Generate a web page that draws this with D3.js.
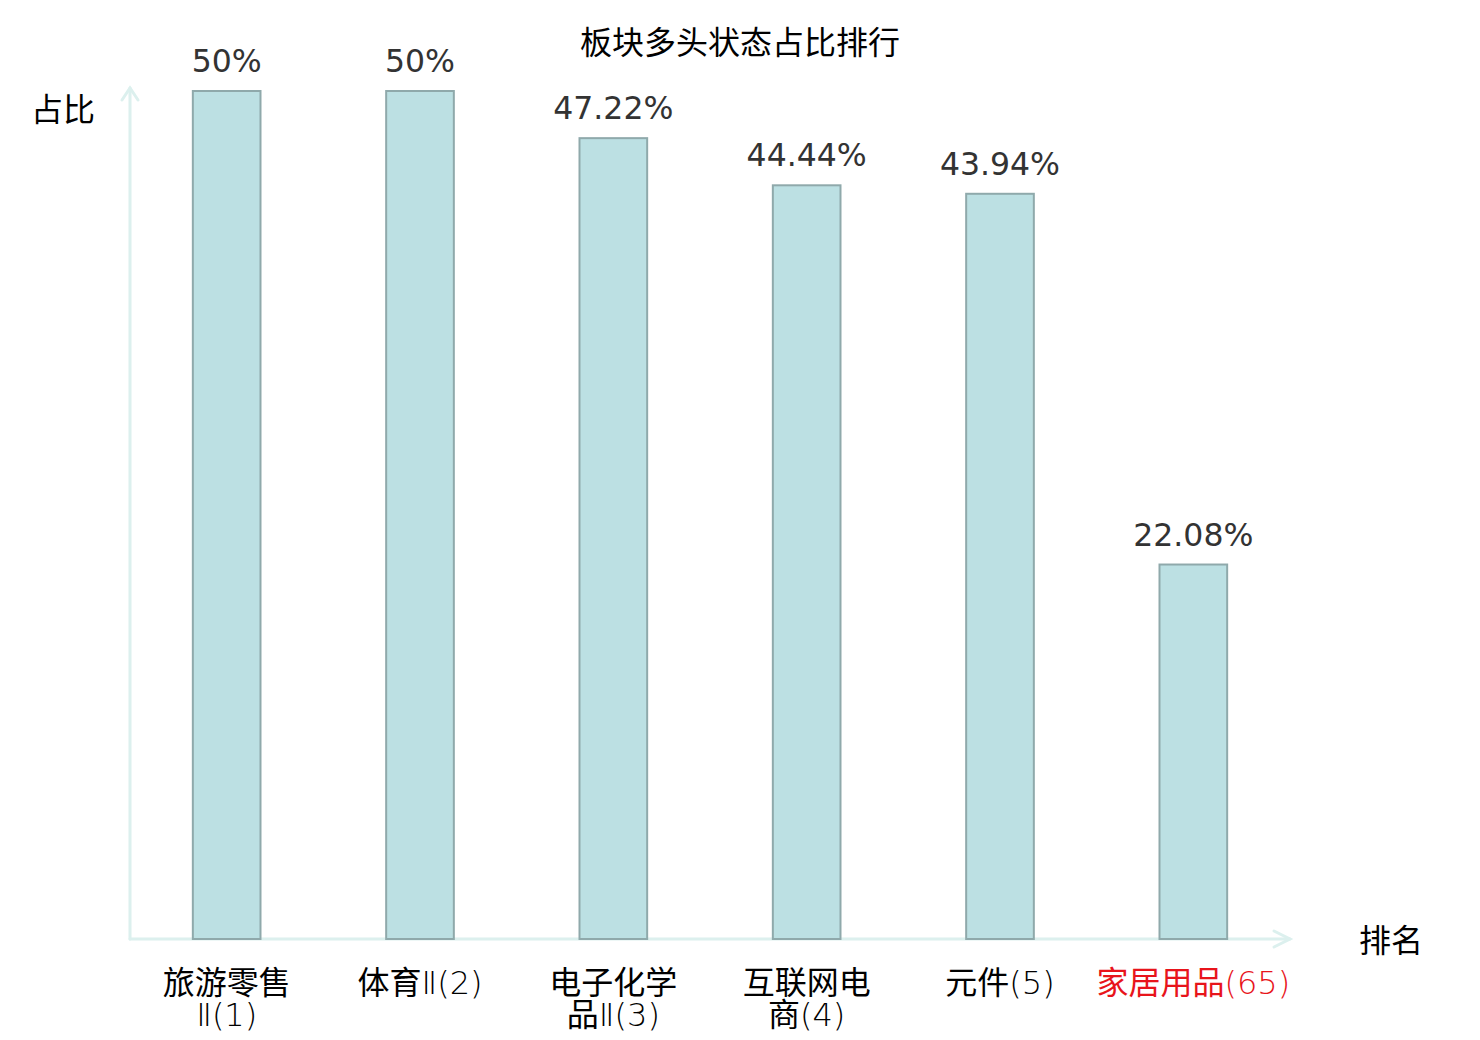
<!DOCTYPE html>
<html>
<head>
<meta charset="utf-8">
<script src="https://cdn.jsdelivr.net/npm/d3@7/dist/d3.min.js"></script>
<style>
  body { margin: 0; background: #fff; }
  text { font-family: "Noto Sans CJK SC", "DejaVu Sans", sans-serif; }
  .latin { font-family: "DejaVu Sans", sans-serif; font-weight: 200; }
</style>
</head>
<body>
<div id="chart"></div>
<script>
// chart data
var categories = ["旅游零售\nⅡ(1)", "体育Ⅱ(2)", "电子化学\n品Ⅱ(3)", "互联网电\n商(4)", "元件(5)", "家居用品(65)"];
var values = [50, 50, 47.22, 44.44, 43.94, 22.08];
var valueLabels = ["50%", "50%", "47.22%", "44.44%", "43.94%", "22.08%"];
var highlighted = ["家居用品(65)"];

var width = 1480, height = 1040,
    plotLeft = 130, plotRight = 1290, plotTop = 91, plotBottom = 939,
    axisColor = "#dcf0ee", barFill = "#bce0e3", barStroke = "#8fa9ab";

var svg = d3.select("#chart").append("svg")
    .attr("width", width)
    .attr("height", height);

var x = d3.scaleBand()
    .domain(categories)
    .range([plotLeft, plotRight])
    .paddingInner(0.65)
    .paddingOuter(0.325);

var y = d3.scaleLinear()
    .domain([0, 50])
    .range([plotBottom, plotTop]);

// title
svg.append("text")
    .attr("x", 740)
    .attr("y", 54)
    .attr("text-anchor", "middle")
    .style("font-size", "32px")
    .attr("fill", "#000")
    .text("板块多头状态占比排行");

// axes with open arrowheads
var axes = svg.append("g")
    .attr("stroke", axisColor)
    .attr("stroke-width", 3)
    .attr("fill", "none")
    .attr("stroke-linecap", "round");

axes.append("line")
    .attr("x1", plotLeft).attr("y1", plotBottom)
    .attr("x2", plotLeft).attr("y2", plotTop - 3);
axes.append("path")
    .attr("d", "M" + (plotLeft - 8) + "," + (plotTop + 9) + "L" + plotLeft + "," + (plotTop - 3) + "L" + (plotLeft + 8) + "," + (plotTop + 9));

axes.append("line")
    .attr("x1", plotLeft).attr("y1", plotBottom)
    .attr("x2", plotRight).attr("y2", plotBottom);
axes.append("path")
    .attr("d", "M" + (plotRight - 16) + "," + (plotBottom - 8) + "L" + plotRight + "," + plotBottom + "L" + (plotRight - 16) + "," + (plotBottom + 8));

// bars
svg.selectAll(".bar")
    .data(values)
    .enter().append("rect")
    .attr("class", "bar")
    .attr("x", function (d, i) { return x(categories[i]); })
    .attr("y", function (d) { return y(d); })
    .attr("width", x.bandwidth())
    .attr("height", function (d) { return plotBottom - y(d); })
    .attr("fill", barFill)
    .attr("stroke", barStroke)
    .attr("stroke-width", 2);

// value labels
svg.selectAll(".val")
    .data(values)
    .enter().append("text")
    .attr("class", "val")
    .attr("x", function (d, i) { return x(categories[i]) + x.bandwidth() / 2; })
    .attr("y", function (d) { return y(d) - 19; })
    .attr("text-anchor", "middle")
    .style("font-family", "'DejaVu Sans', sans-serif")
    .style("font-size", "31.5px")
    .attr("fill", "#333")
    .text(function (d, i) { return valueLabels[i]; });

// axis names
svg.append("text")
    .attr("x", 63).attr("y", 121)
    .attr("text-anchor", "middle")
    .style("font-size", "32px")
    .text("占比");

svg.append("text")
    .attr("x", 1391).attr("y", 952)
    .attr("text-anchor", "middle")
    .style("font-size", "32px")
    .text("排名");

// category labels, one <text> per line; latin runs drawn in a light face
var lines = [];
categories.forEach(function (c) {
    c.split("\n").forEach(function (t, i) { lines.push({ c: c, t: t, i: i }); });
});

var cat = svg.selectAll(".cat")
    .data(lines)
    .enter().append("text")
    .attr("class", "cat")
    .attr("x", function (d) { return x(d.c) + x.bandwidth() / 2; })
    .attr("y", function (d) { return 994 + d.i * 32; })
    .attr("text-anchor", "middle")
    .style("font-size", "32px")
    .attr("fill", function (d) { return highlighted.indexOf(d.c) >= 0 ? "#e8141b" : "#000"; });

cat.selectAll("tspan")
    .data(function (d) { return d.t.match(/[\u4e00-\u9fff]+|[^\u4e00-\u9fff]+/g); })
    .enter().append("tspan")
    .attr("class", function (s) { return /[\u4e00-\u9fff]/.test(s) ? null : "latin"; })
    .text(function (s) { return s; });
</script>
</body>
</html>
